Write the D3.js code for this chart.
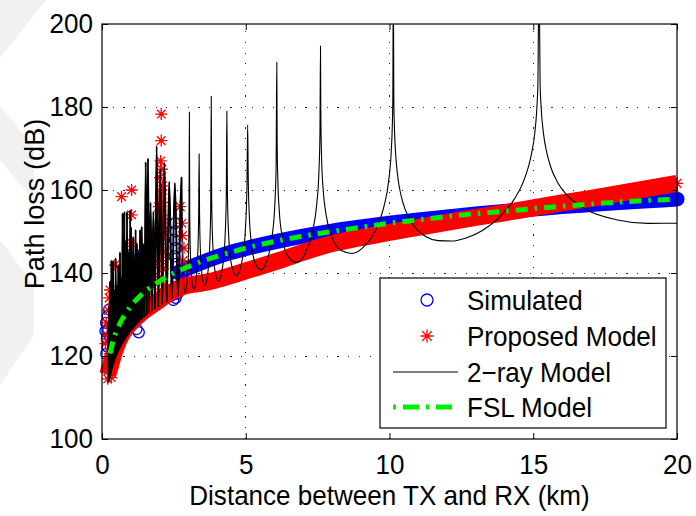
<!DOCTYPE html>
<html>
<head>
<meta charset="utf-8">
<script src="https://cdn.jsdelivr.net/npm/d3@7"></script>
<style>
  body { margin: 0; background: #fff; }
  svg { display: block; }
  text { font-family: "Liberation Sans", Arial, Helvetica, sans-serif; fill: #000; }
</style>
</head>
<body>
<svg id="chart" width="696" height="516"></svg>
<script>
// ---- axis ticks and labels ----
const xTicks = [0, 5, 10, 15, 20];
const yTicks = [100, 120, 140, 160, 180, 200];
const xTitle = "Distance between TX and RX (km)";
const yTitle = "Path loss (dB)";
const seriesNames = ["Simulated", "Proposed Model", "2\u2212ray Model", "FSL Model"];

// ---- Simulated: dense band (km, dB) ----
const simulatedBand = [
  [2.64,140.1],[3.0,141.2],[3.5,142.6],[4.0,143.9],[4.5,145.0],[5.0,145.9],[6.0,147.5],
  [7.0,148.9],[8.0,150.1],[9.0,151.1],[10.0,152.0],[11.0,152.8],[12.0,153.5],[13.0,154.2],
  [14.0,154.8],[15.0,155.4],[16.0,156.0],[17.0,156.5],[18.0,157.0],[19.0,157.4],[20.0,157.8]
];
// ---- Simulated: scattered short-range samples ----
const simulatedScatter = [
  [0.15,120.5],[0.2,122.2],[0.17,124.2],[0.22,126.2],[0.14,128.0],[0.2,129.6],[0.25,131.2],
  [0.27,124.6],[0.12,126.0],
  [1.2,126.5],[1.28,125.7],
  [1.3,143.5],[1.36,141.6],[1.42,144.6],[1.47,143.0],[1.45,141.8],
  [2.55,152.0],[2.57,150.0],[2.53,148.0],[2.56,146.0],[2.52,144.0],[2.58,142.2],
  [2.4,134.5],[2.48,133.5],[2.56,134.0],[2.62,135.0],[2.45,136.0],[2.55,136.5],[2.6,138.0],[2.5,135.0]
];

// ---- Proposed model: dense band (km, dB) ----
const proposedBand = [
  [0.2,115.5],[0.3,117.8],[0.4,120.3],[0.5,122.3],[0.7,125.3],[1.0,128.0],[1.3,130.0],
  [1.6,131.6],[1.9,133.0],[2.2,134.5],[2.5,135.7],[2.8,136.7],[3.1,137.2],[3.5,137.6],
  [3.9,138.2],[4.5,139.4],[5.0,140.5],[5.6,141.8],[6.2,143.1],[7.0,145.0],[7.9,146.9],
  [9.0,148.5],[10.0,149.8],[11.0,151.0],[12.0,152.2],[13.0,153.4],[14.0,154.5],[15.0,155.7],
  [16.0,156.9],[17.0,158.0],[18.0,159.2],[19.0,160.4],[20.0,161.6]
];
// ---- Proposed model: scattered short-range samples ----
const proposedScatter = [
  [0.68,158.4],[1.03,160.0],[1.03,154.0],[1.03,147.2],[1.06,143.0],[0.45,141.9],[0.28,135.9],
  [2.06,178.3],[2.06,171.9],
  [2.04,167],[2.08,165],[2.02,163],[2.1,161],[2.05,159],[2.09,157],[2.03,155],[2.11,153],
  [2.05,151],[2.08,149],[2.02,147],[2.1,145],[2.06,143],[2.12,141],[2.0,139],[2.15,137],
  [1.97,156],[2.14,150],
  [2.72,156],[2.78,152],[2.8,149],[2.85,146],[2.82,143],[2.9,141],
  [0.3,124],[0.35,127],[0.4,130],[0.5,128],[0.6,131],[0.75,134],[0.9,137],[1.1,139],
  [1.25,141],[1.4,138],[1.5,143],[1.6,140],[1.7,146],[1.8,142],[1.85,150],[1.3,135],
  [0.95,133],[0.65,136],[1.2,131],[1.55,134],[1.75,137],[0.55,133],
  [0.2,114.5],[0.25,118],[0.22,116.5],[0.27,120.5],[0.32,114.8],
  [0.15,128],[0.18,125],[0.12,123],[0.22,131],[0.25,134]
];

// ---- 2-ray model (km, dB) ----
const twoRay = [
  [0.22,128],[0.235,113.6],[0.25,132],[0.265,114.4],[0.28,138],[0.29,115.2],
  [0.300,136],[0.310,115.8],[0.325,143],[0.340,116.6],[0.355,130],[0.370,117.3],[0.385,143],
  [0.400,118.0],[0.415,136],[0.430,118.6],[0.445,133],[0.460,119.2],[0.475,143.6],[0.490,119.8],
  [0.505,137],[0.520,120.3],[0.535,134],[0.550,120.8],[0.565,141.9],[0.580,121.2],[0.595,135],
  [0.610,121.7],[0.625,145],[0.640,122.1],[0.655,136],[0.670,122.5],[0.685,139],[0.700,122.9],
  [0.715,154.4],[0.730,123.2],[0.745,142],[0.752,123.4],[0.760,139],[0.770,123.7],[0.779,154.8],
  [0.790,123.9],[0.800,138],[0.811,124.2],[0.822,140],[0.833,124.4],[0.844,148],[0.856,124.6],
  [0.869,154.8],[0.881,124.9],[0.894,146],[0.907,125.1],[0.921,145],[0.935,125.4],[0.950,140],
  [0.965,125.7],[0.981,155.2],[0.997,126.0],[1.013,151],[1.031,126.2],[1.048,141],[1.067,126.5],
  [1.086,148.7],[1.105,126.8],[1.126,143],[1.147,127.2],[1.169,150.4],[1.192,127.5],[1.216,147],
  [1.241,127.8],[1.267,145],[1.294,128.2],[1.322,150.4],[1.351,128.6],[1.382,151.2],[1.414,129.0],
  [1.448,147],[1.483,129.4],[1.520,166.7],[1.559,129.8],[1.600,167.6],[1.643,130.3],[1.689,157],
  [1.737,130.8],[1.788,154.8],[1.842,131.3],[1.900,170.6],[1.961,131.8],[2.027,165],[2.097,132.4],
  [2.171,166.5],[2.252,133.0],[2.338,162],[2.432,133.7],[2.533,161.7],[2.643,134.4],[2.764,163],
  [2.776,150.9],[2.802,141.8],[2.895,135.2],[2.995,142.35],[3.025,151.7],[3.04,178.8],
  [3.052,153.7],[3.077,144.4],[3.134,137.7],[3.2,136.1],[3.269,138.1],[3.333,145.1],[3.363,154.5],[3.378,168.7],
  [3.393,154.6],[3.423,145.3],[3.494,138.7],[3.576,137.0],[3.663,139.1],[3.744,146.1],[3.781,155.5],[3.8,182.6],
  [3.814,158.1],[3.848,147.9],[3.923,140.8],[4.053,138.1],[4.193,141.4],[4.282,148.8],[4.324,159.2],[4.343,179],
  [4.362,159.3],[4.406,149.0],[4.504,142.0],[4.677,139.4],[4.864,142.7],[4.984,150.1],[5.041,160.5],[5.067,175.7],
  [5.084,164.1],[5.118,154.7],[5.197,147.1],[5.333,142.3],[5.527,140.8],[5.736,143.0],[5.903,148.2],
  [6.008,156.1],[6.056,165.6],[6.08,190.8],
  [6.092,171.7],[6.117,162.2],[6.166,155.0],[6.268,148.8],[6.468,144.0],[6.756,142.55],[7.07,144.8],
  [7.325,150.1],[7.469,156.6],[7.543,164.0],[7.581,173.6],[7.6,194.7],
  [7.61,179.7],[7.638,167.6],[7.696,159.8],[7.795,154.0],[8.0,148.6],[8.329,145.4],[8.686,144.7],
  [9.075,146.1],[9.5,150.1],[9.806,156.0],[9.967,162.0],[10.066,170.0],[10.1,176.1],[10.116,182.2],[10.133,212],
  [10.15,182.2],[10.167,176.1],[10.201,170.2],[10.253,165.4],[10.305,162.3],[10.411,158.4],[10.556,155.1],
  [10.857,151.3],[11.259,148.8],[11.692,147.8],[12.16,147.7],[12.667,148.45],[13.217,150.2],[13.818,153.4],
  [14.34,157.8],[14.615,161.3],[14.829,165.5],[14.939,168.7],[15.05,173.5],[15.124,179.6],[15.162,185.7],[15.2,215],
  [15.238,185.7],[15.276,179.7],[15.354,173.7],[15.471,169.0],[15.59,165.9],[15.833,162.0],[16.17,158.8],
  [16.889,155.1],[17.882,152.85],[19.0,151.97],[20.0,152.0]
];

// ---- Free-space loss (km, dB) ----
const fsl = [
  [0.28,120.6],[0.4,124.0],[0.6,127.5],[0.8,130.0],[1.0,132.0],[1.3,134.3],[1.6,136.1],
  [2.0,138.0],[2.5,140.0],[3.0,141.5],[3.5,142.9],[4.0,144.0],[5.0,146.0],[6.0,147.6],
  [7.0,148.9],[8.0,150.0],[9.0,151.0],[10.0,152.0],[11.0,152.8],[12.0,153.6],[13.0,154.3],
  [14.0,154.9],[15.0,155.5],[16.0,156.1],[17.0,156.6],[18.0,157.1],[19.0,157.5],[20.0,157.8]
];

// ---- colours ----
const BLUE = "#0000ff", RED = "#ff0000", GREEN = "#00ee00";
const FONT = 28;

const svg = d3.select("#chart");
const W = 696, H = 516;
const plot = { left: 102, right: 677, top: 24, bottom: 439 };

svg.append("rect").attr("width", W).attr("height", H).attr("fill", "#fff");

// faint background shapes in the left margin
const shade = svg.append("g").attr("fill", "#f1f1f1");
[
  [[0,0],[46,0],[0,58]],
  [[0,105],[34,148],[34,200],[0,160]],
  [[0,240],[34,285],[34,335],[0,385]]
].forEach(p => shade.append("path").attr("d", d3.line()(p)));

const x = d3.scaleLinear().domain([0, 20]).range([plot.left, plot.right]);
const y = d3.scaleLinear().domain([100, 200]).range([plot.bottom, plot.top]);

svg.append("defs").append("clipPath").attr("id", "clip")
  .append("rect").attr("x", plot.left).attr("y", plot.top)
  .attr("width", plot.right - plot.left).attr("height", plot.bottom - plot.top);

// dotted grid
const grid = svg.append("g").attr("stroke", "#222").attr("stroke-width", 1)
  .attr("stroke-dasharray", "1.2,9.5").attr("shape-rendering", "crispEdges");
xTicks.filter(t => t > 0 && t < 20).forEach(t =>
  grid.append("line").attr("x1", x(t)).attr("x2", x(t)).attr("y1", plot.bottom).attr("y2", plot.top));
yTicks.filter(t => t > 100 && t < 200).forEach(t =>
  grid.append("line").attr("y1", y(t)).attr("y2", y(t)).attr("x1", plot.left).attr("x2", plot.right));

// marker glyphs
function asterisk(a) {
  const k = a * 0.72;
  return `M${-a},0L${a},0M0,${-a}L0,${a}M${-k},${-k}L${k},${k}M${-k},${k}L${k},${-k}`;
}

// narrow, tall lettering
function condense(sel, f) {
  sel.each(function () {
    const n = this.getComputedTextLength();
    d3.select(this).attr("textLength", n * f).attr("lengthAdjust", "spacingAndGlyphs");
  });
}

const lineMono = d3.line().x(d => x(d[0])).y(d => y(d[1])).curve(d3.curveMonotoneX);

// Simulated
const gSim = svg.append("g");
gSim.append("path").attr("d", lineMono(simulatedBand)).attr("fill", "none")
  .attr("stroke", BLUE).attr("stroke-width", 15).attr("stroke-linecap", "round");
gSim.selectAll("circle").data(simulatedScatter).join("circle")
  .attr("cx", d => x(d[0])).attr("cy", d => y(d[1])).attr("r", 5.5)
  .attr("fill", "none").attr("stroke", BLUE).attr("stroke-width", 1.3);

// Proposed model
const gProp = svg.append("g");
gProp.append("path").attr("d", lineMono(proposedBand)).attr("fill", "none")
  .attr("stroke", RED).attr("stroke-width", 17).attr("stroke-linecap", "butt");
gProp.selectAll("path.mk").data(proposedScatter.concat([proposedBand[proposedBand.length - 1]]))
  .join("path").attr("class", "mk")
  .attr("transform", d => `translate(${x(d[0])},${y(d[1])})`)
  .attr("d", asterisk(6)).attr("fill", "none").attr("stroke", RED).attr("stroke-width", 1.3);

// 2-ray model: thin line overall, heavier where the nulls crowd together
const gRay = svg.append("g").attr("clip-path", "url(#clip)");
gRay.append("path").attr("d", lineMono(twoRay)).attr("fill", "none")
  .attr("stroke", "#000").attr("stroke-width", 1.1).attr("stroke-linejoin", "round");
gRay.append("path").attr("d", lineMono(twoRay.filter(d => d[0] <= 2.8))).attr("fill", "none")
  .attr("stroke", "#000").attr("stroke-width", 1.9).attr("stroke-linejoin", "round");

// FSL model
svg.append("path").attr("clip-path", "url(#clip)")
  .attr("d", lineMono(fsl)).attr("fill", "none")
  .attr("stroke", GREEN).attr("stroke-width", 5).attr("stroke-dasharray", "12,7,2.5,7");

// axes: inward ticks on all four sides
const axisStyle = g => {
  g.select(".domain").remove();
  g.selectAll(".tick line").attr("stroke", "#000").attr("stroke-width", 1);
  g.selectAll("text").attr("font-size", FONT).attr("font-family", '"Liberation Sans", Arial, sans-serif');
};
const gx = svg.append("g").attr("transform", `translate(0,${plot.bottom})`)
  .call(d3.axisBottom(x).tickValues(xTicks).tickSize(-6).tickPadding(15).tickFormat(d3.format("d")))
  .call(axisStyle);
svg.append("g").attr("transform", `translate(0,${plot.top})`)
  .call(d3.axisTop(x).tickValues(xTicks).tickSize(-6).tickFormat(""))
  .call(axisStyle);
const gy = svg.append("g").attr("transform", `translate(${plot.left},0)`)
  .call(d3.axisLeft(y).tickValues(yTicks).tickSize(-6).tickPadding(9).tickFormat(d3.format("d")))
  .call(axisStyle);
svg.append("g").attr("transform", `translate(${plot.right},0)`)
  .call(d3.axisRight(y).tickValues(yTicks).tickSize(-6).tickFormat(""))
  .call(axisStyle);
condense(gx.selectAll("text"), 0.93);
condense(gy.selectAll("text"), 0.93);

svg.append("rect").attr("x", plot.left).attr("y", plot.top)
  .attr("width", plot.right - plot.left).attr("height", plot.bottom - plot.top)
  .attr("fill", "none").attr("stroke", "#000").attr("stroke-width", 1.2);

// titles
const tx = svg.append("text").attr("x", (plot.left + plot.right) / 2).attr("y", 505)
  .attr("text-anchor", "middle").attr("font-size", FONT).text(xTitle);
const ty = svg.append("text").attr("transform", "translate(44,204) rotate(-90)")
  .attr("text-anchor", "middle").attr("font-size", FONT).text(yTitle);
condense(tx, 0.93);
condense(ty, 0.97);

// legend
const lg = svg.append("g");
lg.append("rect").attr("x", 380).attr("y", 278).attr("width", 286).attr("height", 150)
  .attr("fill", "#fff").attr("stroke", "#000").attr("stroke-width", 1.2);
const rowY = [300, 336, 372, 407];
lg.append("circle").attr("cx", 427).attr("cy", rowY[0]).attr("r", 6)
  .attr("fill", "none").attr("stroke", BLUE).attr("stroke-width", 1.3);
lg.append("path").attr("transform", `translate(427,${rowY[1]})`).attr("d", asterisk(6.5))
  .attr("fill", "none").attr("stroke", RED).attr("stroke-width", 1.3);
lg.append("line").attr("x1", 393).attr("x2", 458).attr("y1", rowY[2]).attr("y2", rowY[2])
  .attr("stroke", "#000").attr("stroke-width", 1);
lg.append("line").attr("x1", 393).attr("x2", 458).attr("y1", rowY[3]).attr("y2", rowY[3])
  .attr("stroke", GREEN).attr("stroke-width", 5).attr("stroke-dasharray", "3,7,16,7");
const lt = lg.selectAll("text.lbl").data(seriesNames).join("text").attr("class", "lbl")
  .attr("x", 467).attr("y", (d, i) => rowY[i] + 10).attr("font-size", FONT).text(d => d);
condense(lt, 0.93);
</script>
</body>
</html>
